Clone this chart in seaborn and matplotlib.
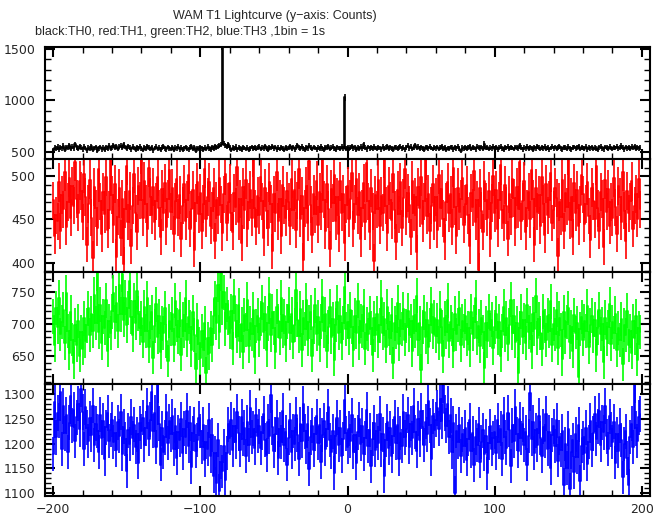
import numpy as np
import pandas as pd
import matplotlib
matplotlib.use("Agg")
import matplotlib.pyplot as plt
import seaborn as sns
from matplotlib.ticker import MultipleLocator

# time bins (1 bin = 1 s), -200 .. 199
time_s = np.arange(-200, 200)

# TH0 counts (black)
th0 = [
    510, 537, 528, 549, 522, 541, 533, 556, 519, 545, 538, 562, 527, 550, 531, 574, 544, 529, 553, 538,
    521, 547, 535, 512, 540, 528, 551, 519, 536, 544, 508, 532, 546, 523, 539, 515, 543, 530, 557, 526,
    541, 564, 538, 552, 527, 548, 559, 536, 571, 545, 530, 554, 540, 523, 547, 536, 519, 541, 528, 550,
    533, 517, 544, 529, 551, 538, 525, 542, 513, 536, 548, 527, 540, 519, 537, 553, 531, 522, 545, 534,
    526, 542, 518, 537, 531, 549, 524, 540, 515, 533, 546, 529, 521, 538, 552, 527, 543, 511, 535, 528,
    545, 532, 520, 538, 526, 548, 534, 517, 541, 529, 552, 537, 548, 558, 566, 1530, 578, 561, 549, 570,
    542, 516, 537, 528, 549, 523, 540, 531, 518, 544, 535, 527, 539, 520, 533, 546, 525, 541, 530, 537,
    548, 526, 539, 533, 551, 529, 519, 542, 536, 555, 531, 545, 524, 538, 527, 542, 534, 517, 541, 528,
    536, 553, 530, 545, 524, 538, 561, 541, 527, 549, 533, 520, 542, 531, 556, 539, 526, 545, 535, 521,
    540, 529, 547, 533, 518, 544, 537, 552, 526, 539, 547, 531, 519, 543, 536, 528, 548, 534, 1030, 530,
    545, 526, 538, 551, 531, 543, 520, 537, 529, 548, 534, 571, 540, 523, 546, 532, 541, 527, 550, 535,
    528, 544, 536, 521, 547, 530, 539, 553, 526, 541, 533, 519, 545, 537, 529, 542, 550, 531, 538, 524,
    541, 556, 533, 547, 527, 539, 561, 535, 548, 529, 542, 534, 520, 546, 538, 531, 549, 536, 527, 543,
    532, 545, 526, 539, 551, 530, 542, 520, 535, 528, 546, 537, 524, 541, 533, 548, 529, 505, 538, 531,
    544, 530, 539, 552, 527, 543, 535, 521, 548, 538, 531, 545, 528, 579, 536, 542, 526, 540, 533, 549,
    530, 541, 524, 538, 547, 532, 519, 543, 536, 550, 528, 542, 535, 526, 546, 539, 531, 563, 537, 524,
    540, 533, 548, 527, 542, 536, 519, 545, 531, 552, 538, 525, 543, 534, 547, 529, 541, 522, 536, 549,
    532, 545, 528, 539, 551, 534, 521, 543, 537, 529, 548, 533, 524, 540, 546, 531, 538, 555, 527, 542,
    535, 528, 547, 521, 539, 532, 544, 526, 537, 530, 516, 541, 548, 534, 523, 545, 538, 529, 550, 536,
    527, 543, 535, 549, 531, 540, 556, 538, 524, 545, 533, 541, 529, 547, 536, 552, 530, 542, 534, 539,
]

# TH1 counts (red)
th1 = [
    472, 431, 455, 448, 493, 437, 478, 462, 505, 441, 470, 498, 452, 489, 466, 517, 474, 458, 495, 483,
    447, 503, 476, 421, 468, 496, 452, 405, 488, 463, 440, 509, 471, 433, 482, 456, 499, 438, 461, 520,
    478, 444, 491, 407, 453, 486, 429, 474, 398, 462, 512, 447, 483, 419, 466, 503, 457, 436, 489, 472,
    526, 452, 494, 468, 439, 510, 476, 455, 488, 447, 471, 499, 463, 430, 485, 458, 492, 441, 474, 507,
    459, 486, 433, 471, 497, 452, 478, 427, 466, 491, 448, 473, 502, 439, 462, 484, 415, 469, 493, 456,
    481, 437, 468, 509, 451, 476, 493, 443, 460, 487, 425, 472, 455, 498, 467, 434, 479, 503, 446, 470,
    492, 458, 436, 481, 465, 511, 447, 474, 423, 488, 461, 496, 439, 470, 484, 452, 522, 463, 441, 477,
    455, 499, 471, 429, 486, 460, 440, 493, 468, 413, 479, 457, 505, 448, 474, 431, 490, 466, 452, 483,
    470, 442, 497, 461, 484, 438, 472, 508, 451, 477, 403, 463, 489, 446, 518, 467, 432, 480, 456, 495,
    444, 482, 459, 527, 473, 437, 491, 462, 416, 485, 469, 501, 448, 476, 433, 494, 458, 480, 423, 467,
    489, 451, 474, 504, 439, 468, 497, 455, 482, 427, 463, 492, 447, 515, 471, 436, 486, 459, 402, 478,
    462, 496, 443, 477, 458, 521, 466, 434, 489, 472, 449, 503, 461, 424, 484, 456, 493, 440, 475, 508,
    453, 481, 467, 430, 495, 458, 476, 412, 488, 463, 499, 445, 471, 519, 454, 480, 437, 466, 491, 448,
    476, 438, 502, 463, 485, 451, 424, 470, 493, 457, 479, 441, 510, 465, 431, 487, 459, 474, 498, 444,
    468, 490, 455, 419, 481, 464, 506, 447, 473, 392, 486, 460, 435, 495, 471, 452, 483, 427, 469, 500,
    457, 484, 439, 472, 513, 461, 446, 490, 466, 428, 479, 453, 497, 475, 440, 488, 462, 516, 448, 471,
    494, 436, 463, 482, 450, 507, 474, 421, 486, 459, 478, 443, 499, 468, 432, 491, 455, 473, 504, 446,
    461, 487, 475, 408, 470, 453, 496, 437, 481, 465, 524, 449, 476, 430, 492, 458, 484, 442, 467, 501,
    479, 445, 468, 493, 454, 426, 487, 471, 450, 512, 463, 437, 482, 474, 418, 496, 459, 485, 443, 470,
    452, 498, 464, 433, 489, 476, 447, 505, 460, 425, 483, 457, 471, 494, 439, 466, 480, 451, 497, 462,
]

# TH2 counts (green)
th2 = [
    712, 668, 725, 695, 741, 684, 703, 722, 671, 748, 690, 655, 718, 676, 640, 699, 667, 705, 651, 688,
    662, 709, 674, 698, 725, 683, 716, 690, 745, 702, 779, 688, 730, 671, 712, 694, 737, 659, 705, 686,
    720, 748, 703, 732, 690, 761, 715, 778, 707, 741, 698, 725, 766, 711, 683, 736, 702, 751, 716, 694,
    709, 673, 726, 690, 740, 665, 703, 718, 648, 697, 731, 680, 712, 657, 701, 686, 725, 674, 643, 705,
    692, 715, 668, 736, 699, 680, 722, 653, 707, 690, 741, 675, 711, 695, 660, 718, 683, 631, 706, 670,
    647, 689, 660, 702, 624, 678, 655, 694, 668, 712, 740, 702, 761, 688, 779, 725, 749, 693, 731, 710,
    687, 720, 662, 743, 705, 681, 729, 674, 700, 657, 714, 691, 738, 666, 702, 684, 722, 649, 697, 713,
    675, 709, 733, 688, 716, 660, 701, 746, 683, 719, 694, 657, 727, 705, 679, 741, 690, 712, 668, 704,
    730, 686, 715, 672, 699, 752, 707, 681, 724, 660, 710, 693, 737, 676, 703, 718, 651, 695, 729, 684,
    711, 668, 704, 742, 689, 715, 658, 696, 727, 680, 708, 645, 699, 734, 686, 713, 671, 702, 758, 692,
    704, 679, 722, 696, 660, 713, 687, 736, 671, 705, 690, 728, 662, 700, 684, 717, 694, 652, 709, 683,
    716, 673, 698, 741, 686, 708, 665, 727, 692, 679, 714, 640, 701, 688, 733, 669, 706, 693, 723, 676,
    697, 721, 683, 705, 659, 712, 690, 744, 676, 702, 629, 695, 718, 680, 707, 664, 699, 731, 687, 710,
    682, 706, 671, 724, 695, 650, 709, 688, 737, 674, 703, 692, 658, 716, 684, 699, 725, 667, 705, 689,
    712, 676, 694, 660, 719, 685, 703, 741, 679, 697, 666, 710, 688, 632, 701, 674, 720, 691, 707, 663,
    695, 716, 678, 704, 651, 690, 727, 683, 709, 669, 698, 738, 686, 712, 673, 701, 624, 694, 719, 680,
    706, 671, 729, 688, 702, 657, 715, 693, 744, 679, 708, 686, 661, 720, 697, 675, 713, 690, 735, 668,
    700, 684, 722, 663, 709, 691, 646, 718, 680, 703, 725, 672, 696, 658, 714, 687, 702, 619, 692, 711,
    676, 705, 689, 728, 664, 698, 713, 681, 707, 652, 694, 722, 685, 700, 641, 710, 677, 696, 731, 669,
    703, 687, 716, 660, 694, 675, 708, 638, 699, 683, 721, 667, 690, 656, 705, 679, 712, 645, 694, 688,
]

# TH3 counts (blue)
th3 = [
    1180, 1285, 1213, 1262, 1247, 1304, 1190, 1276, 1221, 1258, 1183, 1242, 1297, 1236, 1268, 1205, 1253, 1281, 1229, 1310,
    1264, 1190, 1274, 1232, 1206, 1251, 1218, 1277, 1197, 1240, 1226, 1184, 1259, 1211, 1246, 1170, 1233, 1262, 1205, 1228,
    1248, 1203, 1221, 1188, 1243, 1216, 1264, 1179, 1234, 1209, 1145, 1227, 1199, 1254, 1212, 1238, 1193, 1219, 1162, 1241,
    1225, 1252, 1198, 1231, 1276, 1210, 1248, 1305, 1226, 1262, 1193, 1318, 1240, 1158, 1231, 1184, 1213, 1264, 1201, 1245,
    1219, 1255, 1190, 1236, 1172, 1224, 1207, 1249, 1181, 1230, 1214, 1267, 1196, 1241, 1152, 1221, 1238, 1185, 1207, 1251,
    1226, 1193, 1238, 1167, 1204, 1189, 1247, 1176, 1218, 1134, 1182, 1120, 1208, 1105, 1163, 1144, 1196, 1127, 1181, 1239,
    1212, 1248, 1188, 1236, 1203, 1265, 1221, 1187, 1254, 1209, 1232, 1176, 1243, 1198, 1273, 1214, 1230, 1192, 1257, 1216,
    1235, 1191, 1222, 1261, 1207, 1178, 1244, 1215, 1298, 1233, 1186, 1219, 1252, 1171, 1229, 1203, 1266, 1197, 1224, 1158,
    1211, 1247, 1184, 1226, 1199, 1258, 1218, 1169, 1239, 1206, 1281, 1225, 1193, 1240, 1149, 1213, 1236, 1188, 1220, 1255,
    1201, 1237, 1163, 1218, 1246, 1190, 1229, 1274, 1208, 1183, 1225, 1141, 1215, 1252, 1197, 1232, 1176, 1209, 1288, 1221,
    1194, 1230, 1205, 1257, 1183, 1217, 1161, 1223, 1249, 1200, 1236, 1179, 1212, 1268, 1196, 1228, 1154, 1210, 1242, 1188,
    1226, 1201, 1261, 1187, 1219, 1135, 1208, 1244, 1192, 1231, 1176, 1215, 1253, 1202, 1238, 1170, 1222, 1196, 1265, 1213,
    1229, 1258, 1193, 1240, 1211, 1277, 1224, 1185, 1250, 1207, 1266, 1233, 1198, 1244, 1219, 1286, 1237, 1170, 1255, 1227,
    1248, 1272, 1230, 1291, 1245, 1319, 1262, 1236, 1280, 1214, 1257, 1183, 1241, 1101, 1226, 1204, 1238, 1176, 1219, 1195,
    1232, 1168, 1209, 1247, 1186, 1221, 1157, 1213, 1198, 1239, 1164, 1204, 1227, 1179, 1216, 1140, 1201, 1235, 1190, 1211,
    1224, 1182, 1247, 1203, 1230, 1169, 1259, 1214, 1191, 1263, 1228, 1155, 1237, 1206, 1275, 1220, 1186, 1249, 1212, 1239,
    1197, 1223, 1158, 1216, 1303, 1209, 1243, 1181, 1227, 1198, 1256, 1212, 1176, 1234, 1205, 1261, 1189, 1224, 1150, 1218,
    1235, 1195, 1247, 1166, 1213, 1188, 1226, 1117, 1199, 1151, 1230, 1108, 1184, 1207, 1142, 1219, 1173, 1238, 1124, 1196,
    1212, 1181, 1232, 1159, 1204, 1246, 1188, 1221, 1260, 1209, 1235, 1267, 1198, 1243, 1223, 1276, 1215, 1190, 1255, 1229,
    1203, 1244, 1162, 1219, 1186, 1237, 1208, 1132, 1199, 1225, 1172, 1116, 1214, 1240, 1193, 1318, 1231, 1206, 1253, 1260,
]

channels = ["TH0", "TH1", "TH2", "TH3"]
colors = ["black", "red", "#00ff00", "blue"]
ylims = [(428, 1522), (389.6, 520), (607, 781), (1095, 1320)]
major_steps = [500, 50, 50, 50]
minor_steps = [100, 10, 10, 10]

df = pd.DataFrame({"time": time_s, "TH0": th0, "TH1": th1, "TH2": th2, "TH3": th3})

sns.set_style("ticks")
plt.rcParams["font.family"] = ["DejaVu Sans"]

fig = plt.figure(figsize=(6.69, 5.15), dpi=100)

# panel edges in pixels (top -> bottom)
edges = [47, 159, 271.7, 384.3, 495.7]
left, right = 45 / 669, 650 / 669

for i, ch in enumerate(channels):
    bottom = 1 - edges[i + 1] / 515
    height = (edges[i + 1] - edges[i]) / 515
    ax = fig.add_axes([left, bottom, right - left, height])
    sns.lineplot(data=df, x="time", y=ch, ax=ax, color=colors[i],
                 drawstyle="steps-mid", estimator=None, linewidth=1.2)
    # poisson error bars, sqrt(counts)
    err = np.sqrt(df[ch])
    ax.vlines(df["time"], df[ch] - err, df[ch] + err, color=colors[i], linewidth=1.2)
    ax.set_xlim(-205.5, 205.5)
    ax.set_ylim(*ylims[i])
    ax.set_xlabel("")
    ax.set_ylabel("")
    ax.xaxis.set_major_locator(MultipleLocator(100))
    ax.xaxis.set_minor_locator(MultipleLocator(20))
    ax.yaxis.set_major_locator(MultipleLocator(major_steps[i]))
    ax.yaxis.set_minor_locator(MultipleLocator(minor_steps[i]))
    ax.tick_params(which="both", direction="in", top=True, right=True,
                   color="black", labelsize=9)
    ax.tick_params(which="major", length=7, width=1.5)
    ax.tick_params(which="minor", length=4, width=1.0)
    ax.tick_params(axis="y", pad=7)
    ax.tick_params(axis="x", pad=5)
    for s in ax.spines.values():
        s.set_linewidth(1.5)
        s.set_color("black")
    if i < 3:
        ax.tick_params(labelbottom=False)

fig.text(173 / 669, 1 - 16 / 515, "WAM T1 Lightcurve (y\u2212axis: Counts)",
         ha="left", va="center", fontsize=9, family=["Liberation Sans", "DejaVu Sans"])
fig.text(35 / 669, 1 - 32 / 515, "black:TH0, red:TH1, green:TH2, blue:TH3 ,1bin = 1s",
         ha="left", va="center", fontsize=9, family=["Liberation Sans", "DejaVu Sans"])

fig.savefig("out.png", dpi=100)
